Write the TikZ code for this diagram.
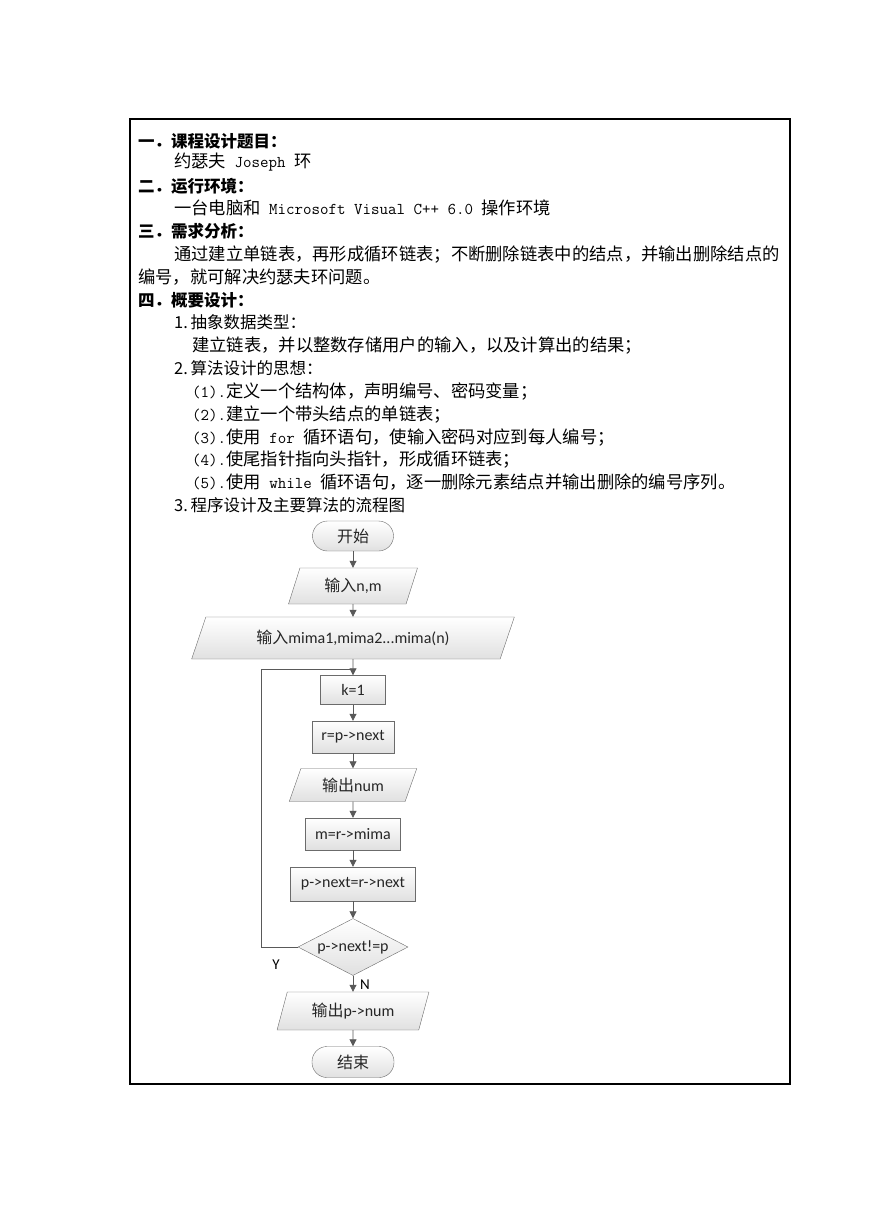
\documentclass[tikz,border=0pt]{standalone}
\usepackage{fontspec}
\setmainfont{Noto Sans CJK SC}
\newfontfamily\calfont{Carlito}
\usetikzlibrary{arrows.meta,shapes.geometric}
\newcommand\en[1]{{\ttfamily\fontsize{16.5pt}{18pt}\selectfont#1}}
\newcommand\fe[1]{{\calfont\fontsize{16pt}{17pt}\selectfont#1}}
% full-width punctuation
\newcommand\zc{\char"FF0C\relax}
\newcommand\zs{\char"FF1B\relax}
\newcommand\zk{\char"FF1A\relax}
\newcommand\zd{\char"FF0E\relax}
\tikzset{
  pg/.style={x=1pt, y=-1pt},
  t hd/.style={anchor=base west, inner sep=0pt, font=\fontsize{16.5pt}{18pt}\selectfont\bfseries},
  t sub/.style={anchor=base west, inner sep=0pt, font=\fontsize{16.5pt}{18pt}\selectfont},
  t body/.style={anchor=base west, inner sep=0pt, font=\fontsize{17.3pt}{20pt}\selectfont},
  fl base/.style={draw=black!58, top color=white, bottom color=black!12, text=black!85,
                  inner sep=1pt, font=\fontsize{16pt}{18pt}\selectfont},
  fl term/.style={fl base, rectangle, rounded corners=15pt, minimum width=81pt, minimum height=30pt},
  fl proc/.style={fl base, rectangle},
  fl io/.style 2 args={fl base, trapezium, trapezium stretches=true,
                  trapezium left angle=#1, trapezium right angle=#2},
  fl dec/.style={fl base, diamond, aspect=1.9, minimum width=110pt, minimum height=57pt},
  fl arr/.style={-{Triangle[length=7pt, width=7pt]}, black!65, line width=0.8pt},
  fl line/.style={black!65, line width=0.8pt},
  fl lab/.style={font=\calfont\fontsize{15pt}{16pt}\selectfont, inner sep=0pt},
}
\begin{document}
\begin{tikzpicture}[pg]
\useasboundingbox (0,0) rectangle (869,1228);
% ---- frame ----
\draw[line width=2pt] (130,119) rectangle (790,1084);
% ---- text ----
\node[t hd]   (h1)  at (138,147.5) {一\zd{}课程设计题目\zk{}};
\node[t body] (b1)  at (174,167.5) {约瑟夫\en{ Joseph }环};
\node[t hd]   (h2)  at (138,192.5) {二\zd{}运行环境\zk{}};
\node[t body] (b2)  at (174,214.5) {一台电脑和\en{ Microsoft Visual C++ 6.0 }操作环境};
\node[t hd]   (h3)  at (138,237.5) {三\zd{}需求分析\zk{}};
\node[t body] (b3)  at (174,260.5) {通过建立单链表\zc{}再形成循环链表\zs{}不断删除链表中的结点\zc{}并输出删除结点的};
\node[t body] (b3b) at (138,283.5) {编号\zc{}就可解决约瑟夫环问题。};
\node[t hd]   (h4)  at (138,306.5) {四\zd{}概要设计\zk{}};
\node[t sub]  (s1)  at (174,328.5) {1.\,抽象数据类型\zk{}};
\node[t body] (s1a) at (192,351.5) {建立链表\zc{}并以整数存储用户的输入\zc{}以及计算出的结果\zs{}};
\node[t sub]  (s2)  at (174,374.5) {2.\,算法设计的思想\zk{}};
\node[t body] (s2a) at (192,397.5) {\en{(1).}定义一个结构体\zc{}声明编号、密码变量\zs{}};
\node[t body] (s2b) at (192,420.5) {\en{(2).}建立一个带头结点的单链表\zs{}};
\node[t body] (s2c) at (192,443.5) {\en{(3).}使用\en{ for }循环语句\zc{}使输入密码对应到每人编号\zs{}};
\node[t body] (s2d) at (192,465.5) {\en{(4).}使尾指针指向头指针\zc{}形成循环链表\zs{}};
\node[t body] (s2e) at (192,488.5) {\en{(5).}使用\en{ while }循环语句\zc{}逐一删除元素结点并输出删除的编号序列。};
\node[t sub]  (s3)  at (174,511)   {3.\,程序设计及主要算法的流程图};
% ---- flow chart ----
\node[fl term] (start) at (353,536) {开始};
\node[fl io={70}{110}, minimum width=130pt, minimum height=36pt] (inp) at (353,586) {输入\fe{n,m}};
\node[fl io={62}{118}, minimum width=323pt, minimum height=42pt] (mima) at (353,638) {输入\fe{mima1,mima2...mima(n)}};
\node[fl proc, minimum width=65pt, minimum height=29pt] (k) at (353,690) {\fe{k=1}};
\node[fl proc, minimum width=82pt, minimum height=32pt] (r) at (353,737) {\fe{r=p->next}};
\node[fl io={67}{113}, minimum width=128pt, minimum height=33pt] (onum) at (353,785) {输出\fe{num}};
\node[fl proc, minimum width=95pt, minimum height=32pt] (m) at (353,834) {\fe{m=r->mima}};
\node[fl proc, minimum width=125pt, minimum height=34pt] (pn) at (353,884) {\fe{p->next=r->next}};
\node[fl dec] (dec) at (353,947) {\fe{p->next!=p}};
\node[fl io={70}{110}, minimum width=152pt, minimum height=38pt] (opn) at (353,1011) {输出\fe{p->num}};
\node[fl term, minimum width=82pt, minimum height=31pt] (stop) at (353,1062) {结束};
\coordinate (lp) at (261,669);
\node[fl lab] (ylab) at (276,965) {Y};
\node[fl lab] (nlab) at (365,985) {N};
\draw[fl arr] (start) -- (inp);
\draw[fl arr] (inp) -- (mima);
\draw[fl arr] (mima) -- (k);
\draw[fl arr] (k) -- (r);
\draw[fl arr] (r) -- (onum);
\draw[fl arr] (onum) -- (m);
\draw[fl arr] (m) -- (pn);
\draw[fl arr] (pn) -- (dec);
\draw[fl arr] (dec) -- (opn);
\draw[fl arr] (opn) -- (stop);
\draw[fl line] (dec.west) -| (lp) -- (k.north |- lp);
\end{tikzpicture}
\end{document}
